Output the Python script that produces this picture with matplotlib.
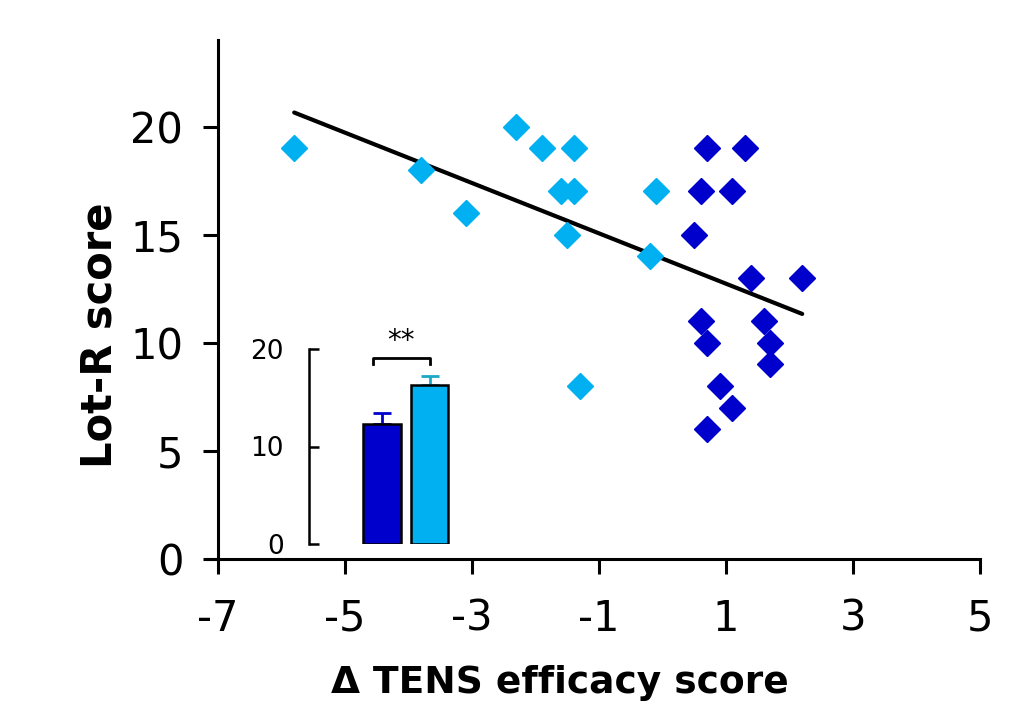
import numpy as np
import matplotlib
matplotlib.use("Agg")
import matplotlib.pyplot as plt

plt.rcParams['font.family'] = ['DejaVu Sans']

# ---- data ----
light_x = [-5.8, -3.8, -3.1, -2.3, -1.9, -1.4, -1.6, -1.4, -1.5, -1.3, -0.1, -0.2]
light_y = [19, 18, 16, 20, 19, 19, 17, 17, 15, 8, 17, 14]
dark_x = [0.7, 1.3, 0.6, 1.1, 0.5, 1.4, 2.2, 0.6, 1.6, 0.7, 1.7, 1.7, 0.9, 1.1, 0.7]
dark_y = [19, 19, 17, 17, 15, 13, 13, 11, 11, 10, 10, 9, 8, 7, 6]

x_ticks = [-7, -5, -3, -1, 1, 3, 5]
y_ticks = [0, 5, 10, 15, 20]

bar_means = [12.3, 16.3]
bar_errs = [1.1, 0.9]
inset_ticks = [0, 10, 20]

LIGHT = '#00B0F0'
DARK = '#0000CC'

fig = plt.figure(figsize=(10.30, 7.04), dpi=100)
W, H = 1030, 704

ax = fig.add_axes([218 / W, 1 - 559 / H, (980 - 218) / W, (559 - 40) / H])
ax.set_xlim(-7, 5)
ax.set_ylim(0, 24)
ax.plot(light_x, light_y, linestyle='none', marker='D', ms=13, color=LIGHT, zorder=3)
ax.plot(dark_x, dark_y, linestyle='none', marker='D', ms=13, color=DARK, zorder=3)

all_x = np.array(light_x + dark_x)
all_y = np.array(light_y + dark_y)
slope, intercept = np.polyfit(all_x, all_y, 1)
xf = np.array([all_x.min(), all_x.max()])
ax.plot(xf, slope * xf + intercept, color='black', lw=3, zorder=2, solid_capstyle='round')

for s in ['top', 'right']:
    ax.spines[s].set_visible(False)
for s in ['left', 'bottom']:
    ax.spines[s].set_linewidth(2.2)
ax.spines['left'].set_bounds(0, 24)
# small extension of the x-axis line to the left of the y axis
ax.plot([-13 / 762, 0], [0, 0], transform=ax.transAxes, color='black', lw=2.2,
        clip_on=False, solid_capstyle='butt')
ax.set_xticks(x_ticks)
ax.set_xticklabels([str(v) for v in x_ticks])
ax.set_yticks(y_ticks)
ax.set_yticklabels([str(v) for v in y_ticks])
ax.tick_params(axis='both', length=11, width=2.2, labelsize=30)
ax.tick_params(axis='x', pad=17)
ax.tick_params(axis='y', pad=14)

fig.text(560 / W, 1 - 683 / H, 'Δ TENS efficacy score', ha='center', va='center',
         fontsize=27, fontweight='bold')
fig.text(100 / W, 1 - 335 / H, 'Lot-R score', ha='center', va='center',
         rotation=90, fontsize=30, fontweight='bold')

# ---- inset bar chart ----
ia = fig.add_axes([309 / W, 1 - 544 / H, (458 - 309) / W, (544 - 349) / H])
ia.set_xlim(-0.544, 2.6)
ia.set_ylim(0, 20)
ia.patch.set_alpha(0)
pos = [1, 2]
ia.bar(pos, bar_means, width=0.79, color=[DARK, LIGHT], edgecolor='black', linewidth=1.8, zorder=3)
ia.errorbar([pos[0]], [bar_means[0]], yerr=[[0], [bar_errs[0]]], fmt='none',
            ecolor=DARK, elinewidth=2, capsize=6.5, capthick=2, zorder=2)
ia.errorbar([pos[1]], [bar_means[1]], yerr=[[0], [bar_errs[1]]], fmt='none',
            ecolor='#1CA8C8', elinewidth=2, capsize=6.5, capthick=2, zorder=2)
for s in ['top', 'right', 'bottom']:
    ia.spines[s].set_visible(False)
ia.spines['left'].set_linewidth(1.8)
ia.spines['left'].set_bounds(0, 20)
ia.set_xticks([])
ia.set_yticks(inset_ticks)
ia.set_yticklabels([str(v) for v in inset_ticks])
ia.tick_params(axis='y', direction='in', length=7, width=1.8, labelsize=19, pad=18)
ia.yaxis.get_major_ticks()[0].tick1line.set_color('#C8C8C8')

# significance bracket
ia.plot([0.8, 0.8, 2.0, 2.0], [18.5, 19.1, 19.1, 18.5], color='black', lw=2,
        clip_on=False)
ia.text(1.4, 20.8, '**', ha='center', va='center', fontsize=20, clip_on=False)

fig.savefig('out.png', dpi=100)
